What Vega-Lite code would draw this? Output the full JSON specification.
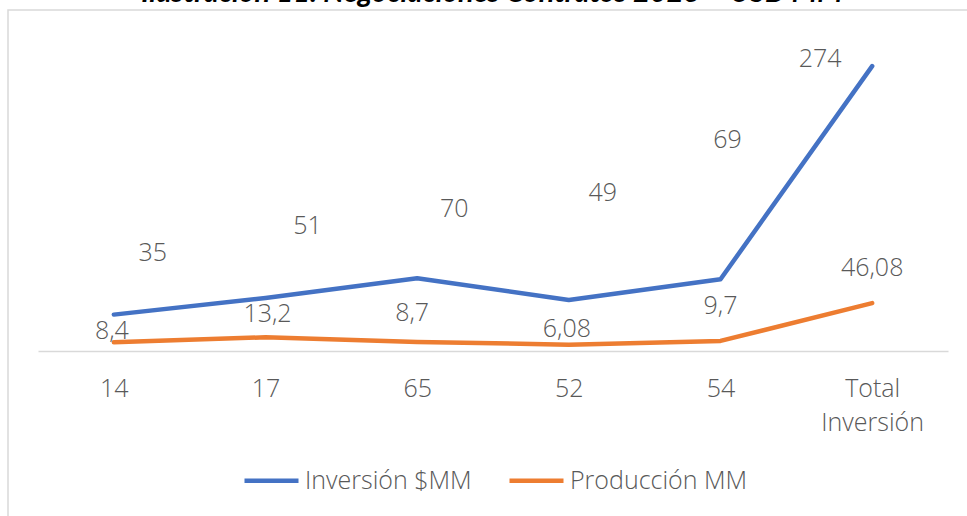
{
  "$schema": "https://vega.github.io/schema/vega-lite/v6.json",
  "autosize": {"type": "none"},
  "width": 962,
  "height": 510,
  "padding": {"left": 8, "top": 10, "right": -3, "bottom": -4},
  "background": "#ffffff",
  "title": {
    "text": "Ilustración 11. Negociaciones Contratos 2023 – USD MM",
    "anchor": "middle",
    "fontSize": 29,
    "font": "Lato",
    "fontStyle": "italic",
    "fontWeight": "bold",
    "color": "#000000",
    "baseline": "alphabetic",
    "offset": 0,
    "dy": 21,
    "dx": 3
  },
  "config": {
    "view": {"stroke": "#D9D9D9", "strokeWidth": 1.5},
    "locale": {"number": {"decimal": ",", "thousands": ".", "grouping": [3], "currency": ["$", ""]}}
  },
  "data": {
    "values": [
      {"cat": "14", "serie": "Inversión $MM", "valor": 35},
      {"cat": "17", "serie": "Inversión $MM", "valor": 51},
      {"cat": "65", "serie": "Inversión $MM", "valor": 70},
      {"cat": "52", "serie": "Inversión $MM", "valor": 49},
      {"cat": "54", "serie": "Inversión $MM", "valor": 69},
      {"cat": "Total Inversión", "serie": "Inversión $MM", "valor": 274},
      {"cat": "14", "serie": "Producción MM", "valor": 8.4},
      {"cat": "17", "serie": "Producción MM", "valor": 13.2},
      {"cat": "65", "serie": "Producción MM", "valor": 8.7},
      {"cat": "52", "serie": "Producción MM", "valor": 6.08},
      {"cat": "54", "serie": "Producción MM", "valor": 9.7},
      {"cat": "Total Inversión", "serie": "Producción MM", "valor": 46.08}
    ]
  },
  "encoding": {
    "x": {
      "field": "cat",
      "type": "nominal",
      "sort": ["14", "17", "65", "52", "54", "Total Inversión"],
      "scale": {"type": "point", "range": [30, 940], "padding": 0.5},
      "axis": {
        "title": null,
        "offset": -169,
        "domainColor": "#D9D9D9",
        "domainWidth": 1.5,
        "ticks": false,
        "labelPadding": 25,
        "labelFontSize": 25,
        "labelFont": "Open Sans",
        "labelFontWeight": 300,
        "labelColor": "#595959",
        "labelAngle": 0,
        "labelBaseline": "top",
        "labelLineHeight": 34,
        "labelExpr": "datum.value == 'Total Inversión' ? ['Total', 'Inversión'] : datum.label"
      }
    },
    "y": {
      "field": "valor",
      "type": "quantitative",
      "scale": {"domain": [0, 328], "range": [341, 0], "nice": false},
      "axis": null
    }
  },
  "layer": [
    {
      "mark": {"type": "line", "strokeWidth": 4.5, "strokeCap": "round", "strokeJoin": "round"},
      "encoding": {
        "color": {
          "field": "serie",
          "type": "nominal",
          "scale": {"domain": ["Inversión $MM", "Producción MM"], "range": ["#4472C4", "#ED7D31"]},
          "legend": {
            "orient": "none",
            "legendX": 234,
            "legendY": 441,
            "direction": "horizontal",
            "title": null,
            "padding": 0,
            "symbolType": "stroke",
            "symbolStrokeWidth": 4.5,
            "symbolSize": 2916,
            "labelFontSize": 25,
            "labelFont": "Open Sans",
            "labelFontWeight": 300,
            "labelColor": "#595959",
            "labelOffset": 4,
            "labelLimit": 400,
            "columnPadding": 28
          }
        }
      }
    },
    {"transform": [{"filter": "datum.serie == 'Inversión $MM' && datum.cat == '14'"}], "mark": {"type": "text", "dx": 39, "dy": -62, "fontSize": 25, "font": "Open Sans", "fontWeight": 300, "color": "#595959", "baseline": "middle", "align": "center"}, "encoding": {"text": {"field": "valor", "type": "quantitative", "format": "~g"}}},
    {"transform": [{"filter": "datum.serie == 'Inversión $MM' && datum.cat == '17'"}], "mark": {"type": "text", "dx": 42, "dy": -72, "fontSize": 25, "font": "Open Sans", "fontWeight": 300, "color": "#595959", "baseline": "middle", "align": "center"}, "encoding": {"text": {"field": "valor", "type": "quantitative", "format": "~g"}}},
    {"transform": [{"filter": "datum.serie == 'Inversión $MM' && datum.cat == '65'"}], "mark": {"type": "text", "dx": 37, "dy": -69, "fontSize": 25, "font": "Open Sans", "fontWeight": 300, "color": "#595959", "baseline": "middle", "align": "center"}, "encoding": {"text": {"field": "valor", "type": "quantitative", "format": "~g"}}},
    {"transform": [{"filter": "datum.serie == 'Inversión $MM' && datum.cat == '52'"}], "mark": {"type": "text", "dx": 34, "dy": -107, "fontSize": 25, "font": "Open Sans", "fontWeight": 300, "color": "#595959", "baseline": "middle", "align": "center"}, "encoding": {"text": {"field": "valor", "type": "quantitative", "format": "~g"}}},
    {"transform": [{"filter": "datum.serie == 'Inversión $MM' && datum.cat == '54'"}], "mark": {"type": "text", "dx": 7, "dy": -139, "fontSize": 25, "font": "Open Sans", "fontWeight": 300, "color": "#595959", "baseline": "middle", "align": "center"}, "encoding": {"text": {"field": "valor", "type": "quantitative", "format": "~g"}}},
    {"transform": [{"filter": "datum.serie == 'Inversión $MM' && datum.cat == 'Total Inversión'"}], "mark": {"type": "text", "dx": -52, "dy": -7, "fontSize": 25, "font": "Open Sans", "fontWeight": 300, "color": "#595959", "baseline": "middle", "align": "center"}, "encoding": {"text": {"field": "valor", "type": "quantitative", "format": "~g"}}},
    {"transform": [{"filter": "datum.serie == 'Producción MM' && datum.cat == '14'"}], "mark": {"type": "text", "dx": -2, "dy": -11, "fontSize": 25, "font": "Open Sans", "fontWeight": 300, "color": "#595959", "baseline": "middle", "align": "center"}, "encoding": {"text": {"field": "valor", "type": "quantitative", "format": "~g"}}},
    {"transform": [{"filter": "datum.serie == 'Producción MM' && datum.cat == '17'"}], "mark": {"type": "text", "dx": 2, "dy": -23, "fontSize": 25, "font": "Open Sans", "fontWeight": 300, "color": "#595959", "baseline": "middle", "align": "center"}, "encoding": {"text": {"field": "valor", "type": "quantitative", "format": "~g"}}},
    {"transform": [{"filter": "datum.serie == 'Producción MM' && datum.cat == '65'"}], "mark": {"type": "text", "dx": -5, "dy": -29, "fontSize": 25, "font": "Open Sans", "fontWeight": 300, "color": "#595959", "baseline": "middle", "align": "center"}, "encoding": {"text": {"field": "valor", "type": "quantitative", "format": "~g"}}},
    {"transform": [{"filter": "datum.serie == 'Producción MM' && datum.cat == '52'"}], "mark": {"type": "text", "dx": -2, "dy": -16, "fontSize": 25, "font": "Open Sans", "fontWeight": 300, "color": "#595959", "baseline": "middle", "align": "center"}, "encoding": {"text": {"field": "valor", "type": "quantitative", "format": "~g"}}},
    {"transform": [{"filter": "datum.serie == 'Producción MM' && datum.cat == '54'"}], "mark": {"type": "text", "dx": 0, "dy": -35, "fontSize": 25, "font": "Open Sans", "fontWeight": 300, "color": "#595959", "baseline": "middle", "align": "center"}, "encoding": {"text": {"field": "valor", "type": "quantitative", "format": "~g"}}},
    {"transform": [{"filter": "datum.serie == 'Producción MM' && datum.cat == 'Total Inversión'"}], "mark": {"type": "text", "dx": 0, "dy": -35, "fontSize": 25, "font": "Open Sans", "fontWeight": 300, "color": "#595959", "baseline": "middle", "align": "center"}, "encoding": {"text": {"field": "valor", "type": "quantitative", "format": "~g"}}}
  ]
}
